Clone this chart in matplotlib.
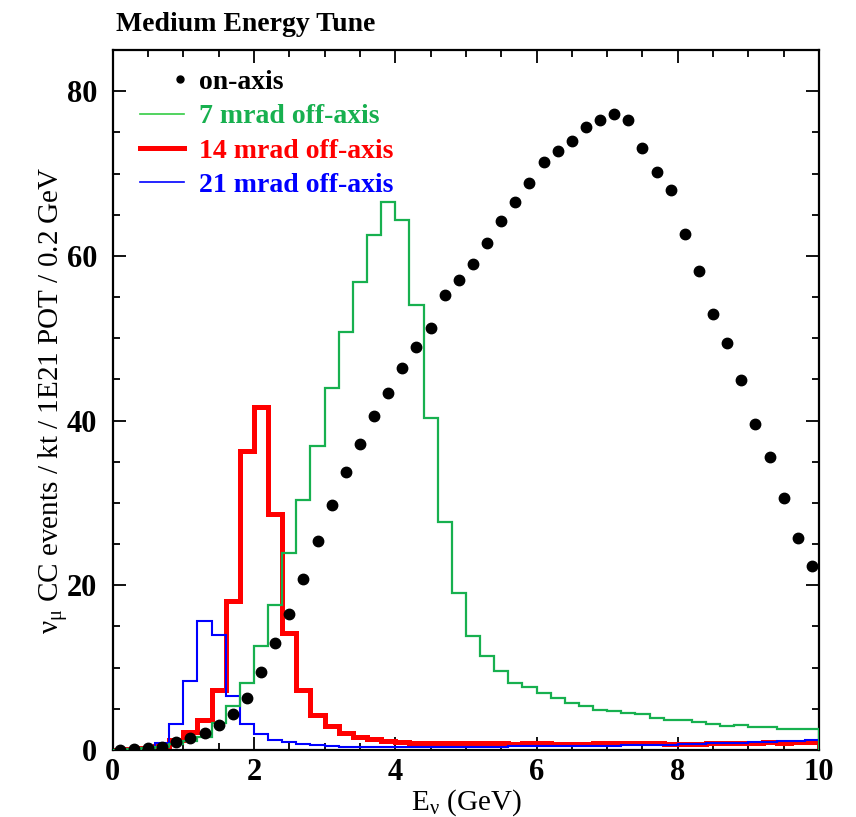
import numpy as np
import matplotlib
matplotlib.use("Agg")
import matplotlib.pyplot as plt
from matplotlib.lines import Line2D
from matplotlib.legend_handler import HandlerBase
from matplotlib.ticker import MultipleLocator

plt.rcParams['font.family'] = ['Liberation Serif', 'DejaVu Serif']
plt.rcParams['mathtext.fontset'] = 'custom'
plt.rcParams['mathtext.rm'] = 'Liberation Serif'

# bin edges, 0.2 GeV wide
edges = np.round(np.arange(0, 10.0001, 0.2), 2)
centers = (edges[:-1] + edges[1:]) / 2

on_axis = [0.05, 0.1, 0.2, 0.4, 1.0, 1.4, 2.1, 3.0, 4.4, 6.3,
           9.5, 13.0, 16.5, 20.8, 25.4, 29.8, 33.7, 37.1, 40.5, 43.3,
           46.4, 48.9, 51.3, 55.2, 57.1, 59.0, 61.6, 64.2, 66.5, 68.8,
           71.4, 72.7, 73.9, 75.6, 76.5, 77.2, 76.5, 73.1, 70.2, 68.0,
           62.7, 58.2, 53.0, 49.4, 44.9, 39.6, 35.6, 30.6, 25.7, 22.3]

off7 = [0.05, 0.1, 0.2, 0.4, 0.7, 1.1, 1.6, 3.3, 5.3, 8.1,
        12.6, 17.6, 23.9, 30.3, 36.9, 43.9, 50.8, 56.8, 62.5, 66.6,
        64.3, 54.0, 40.3, 27.7, 19.1, 13.9, 11.4, 9.6, 8.1, 7.6,
        6.9, 6.3, 5.75, 5.3, 4.9, 4.7, 4.5, 4.4, 3.85, 3.65,
        3.6, 3.4, 3.2, 2.9, 3.0, 2.75, 2.75, 2.55, 2.5, 2.5]

off14 = [0.05, 0.1, 0.2, 0.5, 1.2, 2.2, 3.6, 7.3, 18.1, 36.3,
         41.6, 28.6, 14.2, 7.3, 4.3, 2.9, 2.1, 1.6, 1.3, 1.1,
         0.95, 0.9, 0.85, 0.85, 0.8, 0.8, 0.8, 0.8, 0.75, 0.8,
         0.8, 0.7, 0.7, 0.75, 0.8, 0.8, 0.8, 0.8, 0.8, 0.75,
         0.7, 0.7, 0.8, 0.85, 0.9, 0.85, 0.95, 0.9, 1.0, 1.0]

off21 = [0.02, 0.1, 0.3, 0.9, 3.1, 8.4, 15.7, 14.0, 6.5, 3.1,
         1.95, 1.2, 0.93, 0.73, 0.55, 0.5, 0.42, 0.38, 0.35, 0.35,
         0.35, 0.35, 0.38, 0.4, 0.4, 0.4, 0.42, 0.42, 0.45, 0.45,
         0.45, 0.45, 0.45, 0.48, 0.5, 0.5, 0.55, 0.55, 0.6, 0.65,
         0.7, 0.75, 0.8, 0.85, 0.9, 0.95, 1.0, 1.05, 1.1, 1.2]

labels = ["on-axis", "7 mrad off-axis", "14 mrad off-axis", "21 mrad off-axis"]
green = '#17b04f'
red = '#ff0000'
blue = '#0000ff'


class RightDot(HandlerBase):
    # single marker at the right end of the legend slot
    def create_artists(self, legend, orig_handle, xdescent, ydescent,
                       width, height, fontsize, trans):
        m = Line2D([width - xdescent - 3], [(height - ydescent) / 2],
                   ls='none', marker='o', color='black', ms=5)
        m.set_transform(trans)
        return [m]


fig = plt.figure(figsize=(8.56, 8.17), dpi=100)
ax = fig.add_axes([0.1317, 0.082, 0.8251, 0.8568])

ax.stairs(off14, edges, color=red, lw=3.6, zorder=2)
ax.stairs(off21, edges, color=blue, lw=1.5, zorder=3)
ax.stairs(off7, edges, color=green, lw=1.6, zorder=4)
ax.plot(centers, on_axis, 'o', color='black', ms=7.5, zorder=5)

ax.set_xlim(0, 10)
ax.set_ylim(0, 85)
ax.xaxis.set_major_locator(MultipleLocator(2))
ax.xaxis.set_minor_locator(MultipleLocator(0.5))
ax.yaxis.set_major_locator(MultipleLocator(20))
ax.yaxis.set_minor_locator(MultipleLocator(5))
ax.tick_params(which='both', direction='in', top=True, right=True, width=1.3)
ax.tick_params(which='major', length=9.5)
ax.tick_params(which='minor', length=5)
ax.tick_params(axis='x', pad=6)
ax.tick_params(axis='y', pad=11)
for lab in ax.get_xticklabels() + ax.get_yticklabels():
    lab.set_fontsize(22)
    lab.set_fontweight('bold')
for sp in ax.spines.values():
    sp.set_linewidth(1.6)

ax.set_xlabel(r'E$_\mathregular{\nu}$ (GeV)', fontsize=21, labelpad=0)
ax.set_ylabel(r'$\mathregular{\nu_\mu}$ CC events / kt / 1E21 POT / 0.2 GeV',
              fontsize=21, labelpad=-2)

dot_handle = Line2D([], [], ls='none', marker='o', color='black', ms=5)
handles = [
    dot_handle,
    Line2D([], [], color='#33cc44', lw=1.2),
    Line2D([], [], color=red, lw=3.6),
    Line2D([], [], color=blue, lw=1.2),
]
leg = ax.legend(handles, labels, loc='upper left',
                bbox_to_anchor=(0.038, 0.972), frameon=False,
                prop={'size': 20, 'weight': 'bold'},
                handlelength=1.6, handletextpad=0.55, labelspacing=0.32,
                borderpad=0, borderaxespad=0,
                handler_map={dot_handle: RightDot()},
                labelcolor=['black', green, red, blue])

fig.text(0.135, 0.985, 'Medium Energy Tune', fontsize=20, fontweight='bold',
         va='top', ha='left')

fig.savefig('out.png', dpi=100)
